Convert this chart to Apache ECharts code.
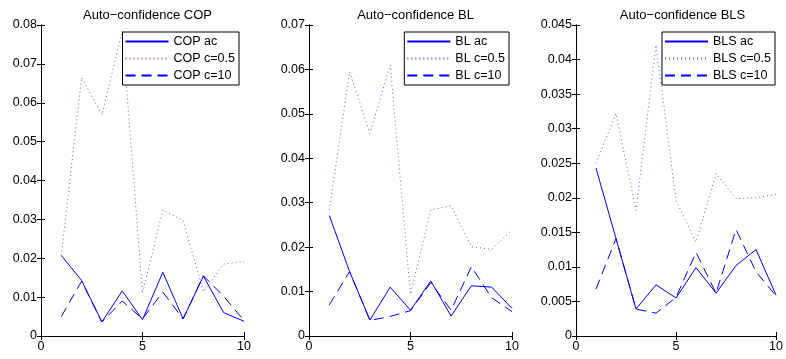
<!DOCTYPE html>
<html>
<head>
<meta charset="utf-8">
<script src="https://cdn.jsdelivr.net/npm/echarts@6/dist/echarts.min.js"></script>
<style>
  html, body { margin: 0; padding: 0; background: #fff; }
  #chart { width: 786px; height: 359px; }
</style>
</head>
<body>
<div id="chart"></div>
<script>
const steps = [1, 2, 3, 4, 5, 6, 7, 8, 9, 10];

const copAc   = [0.0207, 0.0143, 0.0036, 0.0116, 0.0042, 0.0164, 0.0044, 0.0154, 0.0060, 0.0038];
const copC05  = [0.0207, 0.0665, 0.0569, 0.0785, 0.0110, 0.0324, 0.0297, 0.0114, 0.0185, 0.0192];
const copC10  = [0.0050, 0.0141, 0.0036, 0.0090, 0.0044, 0.0113, 0.0044, 0.0155, 0.0102, 0.0040];

const blAc    = [0.0271, 0.0145, 0.0036, 0.0110, 0.0058, 0.0124, 0.0045, 0.0113, 0.0110, 0.0062];
const blC05   = [0.0284, 0.0595, 0.0456, 0.0610, 0.0094, 0.0284, 0.0293, 0.0201, 0.0195, 0.0239];
const blC10   = [0.0070, 0.0145, 0.0035, 0.0044, 0.0057, 0.0120, 0.0058, 0.0156, 0.0086, 0.0055];

const blsAc   = [0.0243, 0.0141, 0.0039, 0.0074, 0.0055, 0.0099, 0.0062, 0.0102, 0.0125, 0.0059];
const blsC05  = [0.0250, 0.0322, 0.0182, 0.0421, 0.0196, 0.0136, 0.0235, 0.0199, 0.0200, 0.0205];
const blsC10  = [0.0068, 0.0141, 0.0039, 0.0033, 0.0056, 0.0121, 0.0062, 0.0154, 0.0093, 0.0058];

const panels = [
  { title: "Auto−confidence COP", prefix: "COP", yMax: 0.08, yStep: 0.01, series: [copAc, copC05, copC10] },
  { title: "Auto−confidence BL", prefix: "BL", yMax: 0.07, yStep: 0.01, series: [blAc, blC05, blC10] },
  { title: "Auto−confidence BLS", prefix: "BLS", yMax: 0.045, yStep: 0.005, series: [blsAc, blsC05, blsC10] },
];
const suffixes = ["ac", "c=0.5", "c=10"];
const lineTypes = ["solid", [1, 3], [10, 6]];

// layout of the three axes boxes, in px
const boxLeft = [41, 309, 576];
const boxWidth = 203;
const legendRight = [547, 277, 11];

const font = "'Liberation Sans', Arial, sans-serif";
const blue = "#0000ff";

const option = {
  backgroundColor: "#fff",
  animation: false,
  textStyle: { fontFamily: font, color: "#000" },
  title: [], grid: [], xAxis: [], yAxis: [], legend: [], series: [],
};

panels.forEach((p, i) => {
  option.grid.push({ left: boxLeft[i], width: boxWidth, top: 25, bottom: 23 });
  option.title.push({
    text: p.title, left: boxLeft[i] + boxWidth / 2, top: 4, textAlign: "center",
    textStyle: { fontSize: 13, fontWeight: "normal", color: "#000", fontFamily: font },
  });
  const axisBase = {
    axisLine: { show: true, lineStyle: { color: "#000", width: 1 } },
    axisTick: { show: true, inside: true, length: 4, lineStyle: { color: "#000" } },
    splitLine: { show: false },
  };
  option.xAxis.push(Object.assign({
    gridIndex: i, type: "value", min: 0, max: 10, interval: 5, position: "bottom",
    axisLabel: { fontSize: 12.5, color: "#000", margin: 4, fontFamily: font },
  }, axisBase));
  option.xAxis.push(Object.assign({
    gridIndex: i, type: "value", min: 0, max: 10, interval: 5, position: "top",
    axisLabel: { show: false },
  }, axisBase));
  option.yAxis.push(Object.assign({
    gridIndex: i, type: "value", min: 0, max: p.yMax, interval: p.yStep, position: "left",
    axisLabel: { fontSize: 12.5, color: "#000", margin: 4, fontFamily: font },
  }, axisBase));
  option.yAxis.push(Object.assign({
    gridIndex: i, type: "value", min: 0, max: p.yMax, interval: p.yStep, position: "right",
    axisLabel: { show: false },
  }, axisBase));

  const names = suffixes.map((s) => p.prefix + " " + s);
  option.legend.push({
    data: names, orient: "vertical", right: legendRight[i], top: 32,
    backgroundColor: "#fff", borderColor: "#000", borderWidth: 1,
    padding: [3, 4, 3, 2], itemWidth: 43, itemHeight: 12, itemGap: 4,
    itemStyle: { color: "rgba(0,0,0,0)", borderWidth: 0 },
    textStyle: { fontSize: 12.5, color: "#000", fontFamily: font },
    z: 10,
  });
  p.series.forEach((vals, k) => {
    option.series.push({
      name: names[k], type: "line", xAxisIndex: i * 2, yAxisIndex: i * 2,
      symbol: "none",
      data: steps.map((x, j) => [x, vals[j]]),
      lineStyle: { color: blue, width: 1, type: lineTypes[k], opacity: k === 1 ? 0.65 : 1 },
      itemStyle: { color: blue },
      z: 3 - k,
    });
  });
});

const chart = echarts.init(document.getElementById("chart"), null, { renderer: "canvas" });
chart.setOption(option);
</script>
</body>
</html>
